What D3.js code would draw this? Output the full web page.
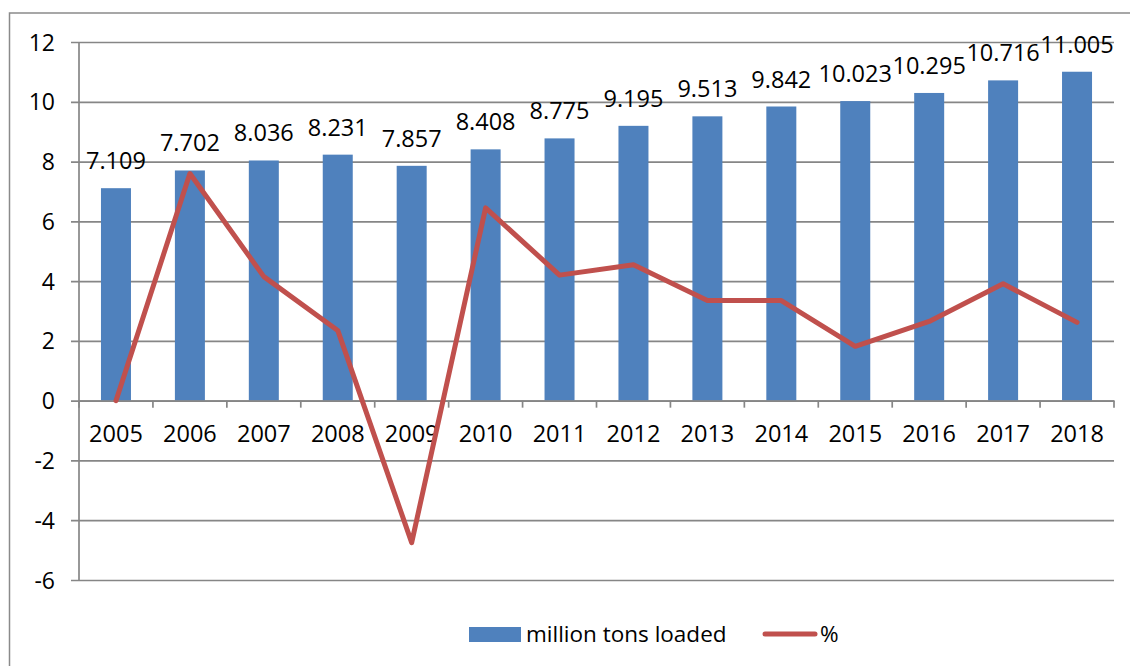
<!DOCTYPE html>
<html>
<head>
<meta charset="utf-8">
<script src="https://cdn.jsdelivr.net/npm/d3@7"></script>
<style>
  html, body { margin: 0; padding: 0; background: #fff; }
  svg text { font-family: "Open Sans", "Liberation Sans", sans-serif; fill: #000; }
</style>
</head>
<body>
<svg id="chart" width="1130" height="666"></svg>
<script>
// Years on the category axis
const years = ["2005","2006","2007","2008","2009","2010","2011","2012","2013","2014","2015","2016","2017","2018"];
// Cargo loaded, million tons (bars)
const tonsLoaded = [7.109, 7.702, 8.036, 8.231, 7.857, 8.408, 8.775, 9.195, 9.513, 9.842, 10.023, 10.295, 10.716, 11.005];
// Year-on-year change, % (line)
const pctChange = [0, 7.6, 4.15, 2.35, -4.75, 6.45, 4.2, 4.55, 3.35, 3.35, 1.82, 2.65, 3.91, 2.62];
// Value axis ticks
const yTicks = [-6, -4, -2, 0, 2, 4, 6, 8, 10, 12];
// Legend entries
const legendLabels = ["million tons loaded", "%"];

const barColor = "#4F81BD";
const lineColor = "#C0504D";
const gridColor = "#868686";

const svg = d3.select("#chart");

// outer chart frame
svg.append("rect")
  .attr("x", 9.5).attr("y", 13)
  .attr("width", 1140).attr("height", 680)
  .attr("fill", "none").attr("stroke", "#8a8a8a").attr("stroke-width", 1.5);

const plot = { left: 79, right: 1114, top: 42, bottom: 580 };

const xc = d3.scaleBand().domain(years).range([plot.left, plot.right]);
const y = d3.scaleLinear().domain([-6, 12]).range([plot.bottom, plot.top]);

// horizontal gridlines with outward ticks on the value axis
const yAxis = d3.axisLeft(y).tickValues(yTicks).tickFormat(d => String(d))
  .tickSize(-(plot.right - plot.left));
const gy = svg.append("g").attr("transform", `translate(${plot.left},0)`).call(yAxis);
gy.select(".domain").remove();
gy.selectAll(".tick line").attr("stroke", gridColor).attr("stroke-width", 1.7).attr("x1", -8);
gy.selectAll(".tick text").attr("font-size", 23).attr("dy", "0.35em").attr("x", -24);

// vertical value-axis line
svg.append("line")
  .attr("x1", plot.left).attr("x2", plot.left)
  .attr("y1", plot.top).attr("y2", plot.bottom)
  .attr("stroke", gridColor).attr("stroke-width", 1.7);

// bars
svg.append("g").selectAll("rect")
  .data(tonsLoaded)
  .join("rect")
  .attr("x", (d, i) => xc(years[i]) + xc.bandwidth() / 2 - 15)
  .attr("width", 30)
  .attr("y", d => y(d))
  .attr("height", d => y(0) - y(d))
  .attr("fill", barColor);

// category axis along zero
const xAxis = d3.axisBottom(xc).tickSize(0).tickPadding(25);
const gx = svg.append("g").attr("transform", `translate(0,${y(0)})`).call(xAxis);
gx.select(".domain").attr("stroke", gridColor).attr("stroke-width", 1.7);
gx.selectAll(".tick text").attr("font-size", 23.5).attr("dy", "0.71em");
// tick marks at category boundaries
svg.append("g").selectAll("line")
  .data(d3.range(years.length + 1))
  .join("line")
  .attr("x1", i => plot.left + i * xc.step())
  .attr("x2", i => plot.left + i * xc.step())
  .attr("y1", y(0)).attr("y2", y(0) + 7)
  .attr("stroke", gridColor).attr("stroke-width", 1.7);

// value labels above bars
svg.append("g").selectAll("text")
  .data(tonsLoaded)
  .join("text")
  .attr("x", (d, i) => xc(years[i]) + xc.bandwidth() / 2)
  .attr("y", d => y(d) - 19)
  .attr("text-anchor", "middle")
  .attr("font-size", 23.5)
  .text(d => d3.format(".3f")(d));

// percentage change line
const line = d3.line()
  .x((d, i) => xc(years[i]) + xc.bandwidth() / 2)
  .y(d => y(d));
svg.append("path")
  .datum(pctChange)
  .attr("d", line)
  .attr("fill", "none")
  .attr("stroke", lineColor)
  .attr("stroke-width", 5)
  .attr("stroke-linejoin", "round")
  .attr("stroke-linecap", "round");

// legend
const lg = svg.append("g");
lg.append("rect").attr("x", 469).attr("y", 627).attr("width", 52).attr("height", 15).attr("fill", barColor);
lg.append("text").attr("x", 526).attr("y", 642).attr("font-size", 22.5).text(legendLabels[0]);
lg.append("line").attr("x1", 765).attr("x2", 815).attr("y1", 634).attr("y2", 634)
  .attr("stroke", lineColor).attr("stroke-width", 5).attr("stroke-linecap", "round");
lg.append("text").attr("x", 820).attr("y", 642).attr("font-size", 22.5).text(legendLabels[1]);
</script>
</body>
</html>
